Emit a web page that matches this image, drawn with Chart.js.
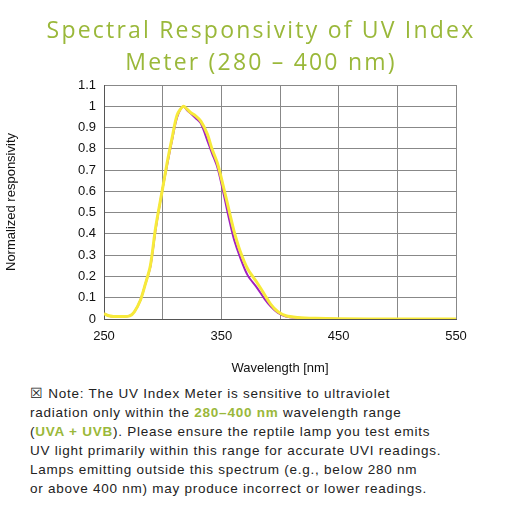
<!DOCTYPE html>
<html><head><meta charset="utf-8">
<script src="https://cdn.jsdelivr.net/npm/chart.js@4"></script>
<style>
body{margin:0;width:522px;height:522px;background:#fff;position:relative;overflow:hidden;font-family:"Liberation Sans",Arial,sans-serif}
#t{position:absolute;top:13px;left:0;width:522px;text-align:center;color:#9ab83a;font-family:"Open Sans",sans-serif;font-size:23px;letter-spacing:2.2px;line-height:32px}
#c{position:absolute;top:0;left:0}
#n{position:absolute;top:384px;left:30px;width:470px;font-size:13.5px;letter-spacing:0.75px;line-height:19px;color:#222;white-space:nowrap}
#n b{color:#9ab83a}
</style></head><body>
<canvas id="c" width="522" height="380"></canvas>
<div id="t">Spectral Responsivity of UV Index<br>Meter (280 – 400 nm)</div>
<div id="n">☒ Note: The UV Index Meter is sensitive to ultraviolet<br>radiation only within the <b>280–400 nm</b> wavelength range<br>(<b>UVA + UVB</b>). Please ensure the reptile lamp you test emits<br>UV light primarily within this range for accurate UVI readings.<br>Lamps emitting outside this spectrum (e.g., below 280 nm<br>or above 400 nm) may produce incorrect or lower readings.</div>
<script>
const wavelengths=[250,254,258,265,272,276,281,285,289.5,294,299.5,304,308,312.4,317.6,321,324,328,332.5,338,342,346.8,352.5,357,361,366,372.5,380,386.8,392,398,405,415,430,450,500,550];
const purple=[0.025,0.015,0.012,0.012,0.015,0.035,0.088,0.16,0.245,0.42,0.6,0.73,0.84,0.95,1.0,0.98,0.966,0.945,0.92,0.84,0.78,0.71,0.574,0.46,0.37,0.29,0.205,0.15,0.095,0.06,0.03,0.012,0.006,0.002,0,0,0];
const yellow=[0.025,0.015,0.012,0.012,0.015,0.035,0.088,0.16,0.25,0.43,0.6,0.74,0.85,0.96,1.0,0.985,0.97,0.955,0.93,0.87,0.8,0.73,0.605,0.5,0.41,0.32,0.235,0.175,0.115,0.07,0.035,0.015,0.007,0.003,0.001,0,0];
const yTicks=[0,0.1,0.2,0.3,0.4,0.5,0.6,0.7,0.8,0.9,1,1.1];
const mk=(a)=>wavelengths.map((x,i)=>({x,y:a[i]}));
new Chart(document.getElementById('c'),{type:'line',
data:{datasets:[
{data:mk(purple),borderColor:'#a020c0',borderWidth:2,pointRadius:0,tension:0.3,order:2},
{data:mk(yellow),borderColor:'#f7ea3a',borderWidth:3,pointRadius:0,tension:0.3,order:1}]},
options:{responsive:false,animation:false,layout:{padding:{top:85,right:66,left:0,bottom:0}},
plugins:{legend:{display:false},tooltip:{enabled:false}},
scales:{
x:{type:'linear',min:250,max:550,afterFit:s=>{s.height=61},
 ticks:{stepSize:50,padding:10,maxRotation:0,color:'#111',font:{size:13,family:'Liberation Sans'},callback:v=>((v-250)%100===0?v:'')},
 grid:{color:'#888',tickLength:0},border:{color:'#555'},
 title:{display:true,text:'Wavelength [nm]',color:'#111',font:{size:13,family:'Liberation Sans'},padding:{top:14}}},
y:{min:0,max:1.1,afterFit:s=>{s.width=104},afterBuildTicks:s=>{s.ticks=yTicks.map(v=>({value:v}))},
 ticks:{padding:8,color:'#111',font:{size:13,family:'Liberation Sans'},callback:v=>String(Math.round(v*10)/10)},
 grid:{color:'#888',tickLength:0},border:{color:'#555'},
 title:{display:true,text:'Normalized responsivity',color:'#111',font:{size:13,family:'Liberation Sans'}}}
}}});
</script></body></html>
